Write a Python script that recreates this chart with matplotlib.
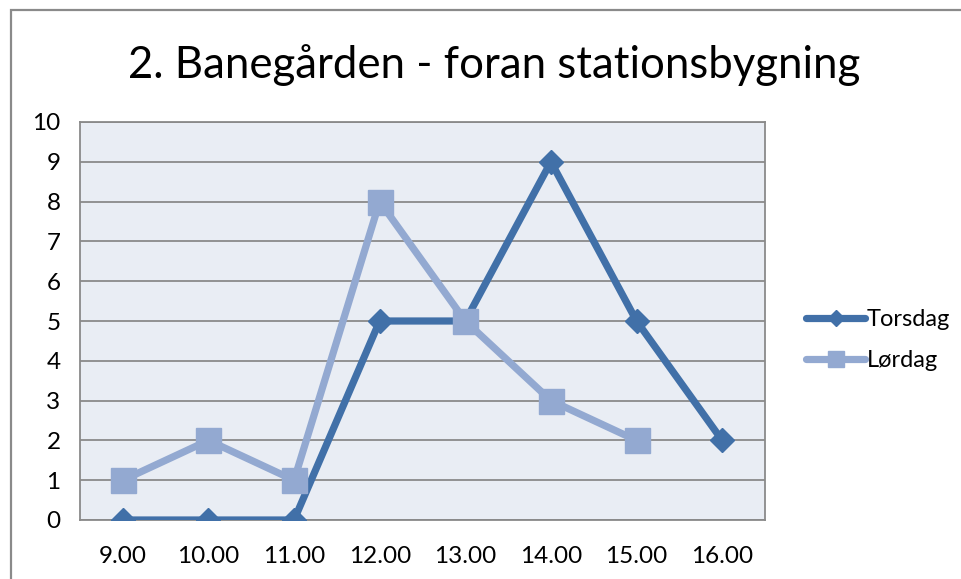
import matplotlib
matplotlib.use("Agg")
import matplotlib.pyplot as plt
from matplotlib.patches import Rectangle

# chart data
hours = ["9.00", "10.00", "11.00", "12.00", "13.00", "14.00", "15.00", "16.00"]
torsdag = [0, 0, 0, 5, 5, 9, 5, 2]
lordag = [1, 2, 1, 8, 5, 3, 2]

dark_blue = "#4170A8"
light_blue = "#93A9D1"

plt.rcParams['font.family'] = ['Lato', 'DejaVu Sans']

fig = plt.figure(figsize=(9.62, 5.79), dpi=100)
W, H = 962, 579
ax = fig.add_axes([80 / W, 1 - 520 / H, 685 / W, 398 / H])
ax.set_facecolor("#E9EDF4")

x = list(range(len(hours)))
ax.plot(x, torsdag, color=dark_blue, lw=5.2, marker="D", ms=12.5,
        solid_joinstyle="round", solid_capstyle="round", label="Torsdag", zorder=3)
ax.plot(x[:len(lordag)], lordag, color=light_blue, lw=5.2, marker="s", ms=18,
        solid_joinstyle="round", solid_capstyle="round", label="Lørdag", zorder=3)

ax.set_xlim(-0.5, len(hours) - 0.5)
ax.set_ylim(0, 10)
ax.set_yticks(range(0, 11))
ax.set_xticks(x)
ax.set_xticklabels(hours)
ax.grid(axis="y", color="#8A8A8A", lw=1.3)
ax.set_axisbelow(True)
for s in ax.spines.values():
    s.set_color("#8A8A8A")
    s.set_linewidth(1.3)
ax.tick_params(length=0, labelsize=17.5, pad=19)
ax.tick_params(axis="y", pad=14)
for lab in ax.get_yticklabels():
    lab.set_horizontalalignment("right")

fig.text(494 / W, 1 - 65 / H, "2. Banegården - foran stationsbygning",
         ha="center", va="center", fontsize=31.5)

ax.legend(loc="center left", bbox_to_anchor=(785 / W, 1 - 340 / H),
          bbox_transform=fig.transFigure, frameon=False, fontsize=17,
          handlelength=2.5, handletextpad=0.05, labelspacing=0.85, markerscale=0.65)

# outer chart frame
fig.patches.append(Rectangle((11 / W, -0.1), 1.2, 1 - 10 / H + 0.1,
                             transform=fig.transFigure, fill=False,
                             edgecolor="#8A8A8A", lw=1.6))

fig.savefig("out.png", dpi=100)
